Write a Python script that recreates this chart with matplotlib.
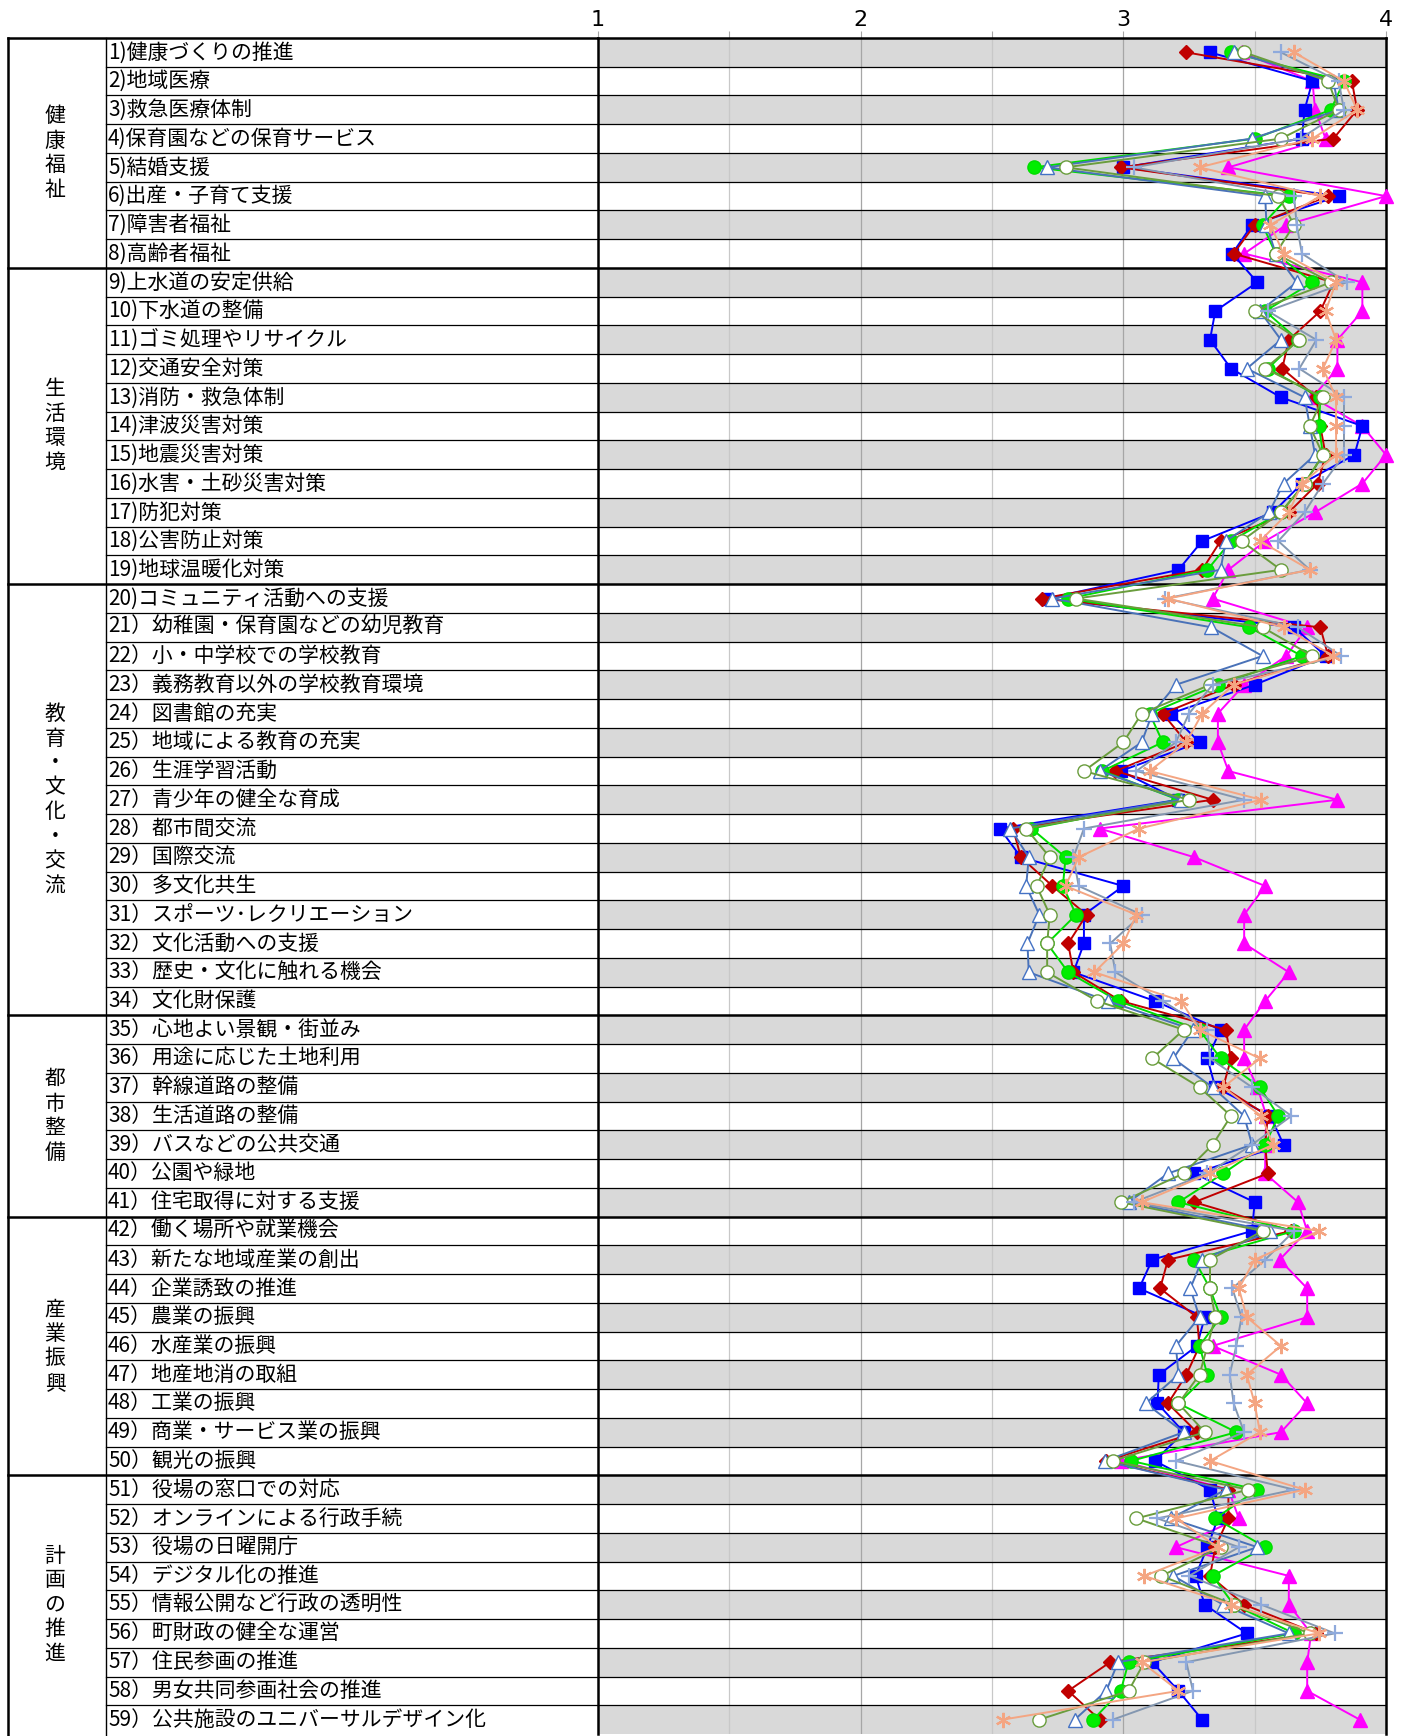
import matplotlib
matplotlib.use("Agg")
import matplotlib.pyplot as plt
import numpy as np

plt.rcParams['font.family'] = ['Noto Sans CJK JP', 'DejaVu Sans']

# categories (group name, number of items)
groups = ['健康福祉', '生活環境', '教育・文化・交流', '都市整備', '産業振興', '計画の推進']
group_sizes = [8, 11, 15, 7, 9, 9]

items = [
    '1)健康づくりの推進', '2)地域医療', '3)救急医療体制', '4)保育園などの保育サービス',
    '5)結婚支援', '6)出産・子育て支援', '7)障害者福祉', '8)高齢者福祉',
    '9)上水道の安定供給', '10)下水道の整備', '11)ゴミ処理やリサイクル', '12)交通安全対策',
    '13)消防・救急体制', '14)津波災害対策', '15)地震災害対策', '16)水害・土砂災害対策',
    '17)防犯対策', '18)公害防止対策', '19)地球温暖化対策',
    '20)コミュニティ活動への支援', '21）幼稚園・保育園などの幼児教育', '22）小・中学校での学校教育',
    '23）義務教育以外の学校教育環境', '24）図書館の充実', '25）地域による教育の充実',
    '26）生涯学習活動', '27）青少年の健全な育成', '28）都市間交流', '29）国際交流',
    '30）多文化共生', '31）スポーツ･レクリエーション', '32）文化活動への支援',
    '33）歴史・文化に触れる機会', '34）文化財保護',
    '35）心地よい景観・街並み', '36）用途に応じた土地利用', '37）幹線道路の整備',
    '38）生活道路の整備', '39）バスなどの公共交通', '40）公園や緑地', '41）住宅取得に対する支援',
    '42）働く場所や就業機会', '43）新たな地域産業の創出', '44）企業誘致の推進', '45）農業の振興',
    '46）水産業の振興', '47）地産地消の取組', '48）工業の振興', '49）商業・サービス業の振興',
    '50）観光の振興',
    '51）役場の窓口での対応', '52）オンラインによる行政手続', '53）役場の日曜開庁',
    '54）デジタル化の推進', '55）情報公開など行政の透明性', '56）町財政の健全な運営',
    '57）住民参画の推進', '58）男女共同参画社会の推進', '59）公共施設のユニバーサルデザイン化',
]

s_square = [3.33, 3.72, 3.69, 3.68, 3.00, 3.82, 3.49, 3.415, 3.51, 3.35,
            3.33, 3.41, 3.60, 3.91, 3.88, 3.68, 3.57, 3.30, 3.21, 2.71,
            3.65, 3.77, 3.50, 3.18, 3.29, 2.99, 3.21, 2.53, 2.61, 3.00,
            2.85, 2.85, 2.81, 3.12, 3.37, 3.32, 3.35, 3.56, 3.61, 3.27,
            3.50, 3.49, 3.11, 3.06, 3.31, 3.28, 3.135, 3.13, 3.23, 3.12,
            3.33, 3.36, 3.32, 3.275, 3.31, 3.47, 3.11, 3.21, 3.30]
s_diamond = [3.24, 3.87, 3.89, 3.80, 2.99, 3.78, 3.50, 3.42, 3.80, 3.75,
             3.63, 3.605, 3.735, 3.75, 3.77, 3.74, 3.63, 3.37, 3.30, 2.69,
             3.75, 3.78, 3.42, 3.15, 3.24, 2.97, 3.34, 2.58, 2.61, 2.73,
             2.86, 2.79, 2.81, 2.99, 3.39, 3.41, 3.38, 3.55, 3.54, 3.55,
             3.27, 3.64, 3.17, 3.14, 3.28, 3.29, 3.24, 3.17, 3.28, 2.935,
             3.40, 3.40, 3.35, 3.33, 3.46, 3.735, 2.95, 2.79, 2.91]
s_green = [3.41, 3.84, 3.79, 3.50, 2.66, 3.63, 3.53, 3.58, 3.72, 3.54,
           3.665, 3.55, 3.75, 3.745, 3.76, 3.69, 3.60, 3.41, 3.32, 2.79,
           3.48, 3.68, 3.36, 3.10, 3.15, 2.92, 3.21, 2.65, 2.78, 2.77,
           2.82, 2.71, 2.79, 2.98, 3.29, 3.37, 3.52, 3.59, 3.54, 3.38,
           3.21, 3.65, 3.27, 3.33, 3.37, 3.29, 3.32, 3.21, 3.43, 3.03,
           3.51, 3.35, 3.54, 3.34, 3.42, 3.65, 3.02, 2.99, 2.885]
s_open_circle = [3.46, 3.78, 3.82, 3.60, 2.78, 3.59, 3.65, 3.58, 3.79, 3.50,
                 3.67, 3.54, 3.76, 3.71, 3.76, 3.69, 3.60, 3.45, 3.60, 2.82,
                 3.53, 3.72, 3.33, 3.07, 3.00, 2.85, 3.25, 2.63, 2.72, 2.67,
                 2.72, 2.71, 2.71, 2.90, 3.23, 3.11, 3.29, 3.41, 3.34, 3.23,
                 2.99, 3.53, 3.33, 3.33, 3.35, 3.32, 3.29, 3.21, 3.31, 2.96,
                 3.475, 3.05, 3.37, 3.145, 3.42, 3.71, 3.08, 3.02, 2.68]
s_open_tri = [3.42, 3.80, 3.82, 3.49, 2.71, 3.54, 3.545, 3.58, 3.66, 3.52,
              3.60, 3.47, 3.69, 3.71, 3.73, 3.61, 3.555, 3.39, 3.37, 2.73,
              3.335, 3.53, 3.20, 3.11, 3.07, 2.91, 3.22, 2.57, 2.64, 2.63,
              2.68, 2.635, 2.64, 2.94, 3.265, 3.19, 3.34, 3.46, 3.49, 3.17,
              3.02, 3.56, 3.30, 3.255, 3.29, 3.20, 3.21, 3.085, 3.23, 2.93,
              3.39, 3.18, 3.51, 3.19, 3.38, 3.63, 2.98, 2.935, 2.815]
s_plus = [3.60, 3.82, 3.84, 3.675, 3.04, 3.65, 3.66, 3.68, 3.85, 3.55,
          3.735, 3.67, 3.84, 3.84, 3.84, 3.76, 3.69, 3.59, 3.71, 3.16,
          3.665, 3.83, 3.34, 3.25, 3.20, 3.05, 3.46, 2.85, 2.81, 2.83,
          3.07, 2.95, 2.97, 3.15, 3.32, 3.33, 3.49, 3.64, 3.49, 3.32,
          3.04, 3.65, 3.54, 3.415, 3.45, 3.43, 3.405, 3.42, 3.46, 3.20,
          3.65, 3.13, 3.44, 3.25, 3.525, 3.805, 3.24, 3.265, 2.96]
s_asterisk = [3.65, 3.84, 3.89, 3.72, 3.29, 3.75, 3.56, 3.61, 3.81, 3.77,
              3.81, 3.76, 3.81, 3.81, 3.81, 3.68, 3.63, 3.52, 3.71, 3.17,
              3.61, 3.80, 3.42, 3.30, 3.24, 3.10, 3.525, 3.06, 2.83, 2.78,
              3.05, 3.00, 2.89, 3.22, 3.29, 3.52, 3.38, 3.525, 3.57, 3.33,
              3.07, 3.745, 3.50, 3.44, 3.47, 3.60, 3.47, 3.50, 3.52, 3.33,
              3.69, 3.20, 3.36, 3.08, 3.41, 3.745, 3.07, 3.21, 2.54]
s_magenta = [3.45, 3.72, 3.73, 3.77, 3.40, 4.00, 3.62, 3.46, 3.91, 3.91,
             3.815, 3.815, 3.72, 3.91, 4.00, 3.91, 3.73, 3.54, 3.40, 3.34,
             3.70, 3.62, 3.46, 3.36, 3.36, 3.40, 3.815, 2.91, 3.27, 3.54,
             3.46, 3.46, 3.63, 3.54, 3.46, 3.46, 3.51, 3.545, 3.54, 3.54,
             3.665, 3.70, 3.595, 3.70, 3.70, 3.34, 3.60, 3.70, 3.60, 2.99,
             3.40, 3.44, 3.20, 3.63, 3.63, 3.715, 3.70, 3.70, 3.90]

W, H = 1407, 1736
fig = plt.figure(figsize=(W / 100, H / 100), dpi=100, facecolor='white')

top_px, bot_px = 38, 1734
x1_px, x4_px = 598, 1386
n = len(items)
rh = (bot_px - top_px) / n

# ---- plot area ----
ax = fig.add_axes([x1_px / W, (H - bot_px) / H, (x4_px - x1_px) / W, (bot_px - top_px) / H])
ax.set_xlim(1, 4)
ax.set_ylim(n, 0)
for i in range(n):
    if i % 2 == 0:
        ax.axhspan(i, i + 1, color='#D9D9D9', zorder=0, lw=0)
for xv in np.arange(1.5, 4.0, 0.5):
    ax.axvline(xv, color='#A6A6A6' if xv == int(xv) else '#C8C8C8', lw=0.9, zorder=0.5)

bounds = np.cumsum(group_sizes)
for i in range(1, n):
    thick = i in bounds
    ax.axhline(i, color='black', lw=1.8 if thick else 0.9, zorder=1)

y = np.arange(n) + 0.5
series = [
    (s_magenta, dict(color='#FF00FF', marker='^', mfc='#FF00FF', mec='#FF00FF', ms=9.5), 3),
    (s_square, dict(color='#0000FF', marker='s', mfc='#0000FF', mec='#0000FF', ms=8), 4),
    (s_diamond, dict(color='#C00000', marker='D', mfc='#C00000', mec='#C00000', ms=7.5), 5),
    (s_green, dict(color='#00DD00', marker='o', mfc='#00EE00', mec='#00DD00', ms=9.5), 6),
    (s_open_tri, dict(color='#4A72B8', marker='^', mfc='white', mec='#4472C4', ms=10), 7),
    (s_open_circle, dict(color='#6A9D3D', marker='o', mfc='white', mec='#6A9D3D', ms=9.5), 8),
    (s_plus, dict(color='#8497B0', marker='+', mec='#8FAADC', ms=11, mew=1.6), 9),
    (s_asterisk, dict(color='#F4A582', marker=(6, 2, 0), mec='#F4A582', ms=11, mew=1.6), 10),
]
for vals, kw, z in series:
    ax.plot(vals, y, lw=1.4, zorder=z, clip_on=False, **kw)

ax.xaxis.tick_top()
ax.set_xticks(np.arange(1, 4.01, 0.5))
ax.set_xticklabels(['1', '', '2', '', '3', '', '4'], fontsize=16, family='DejaVu Sans')
ax.tick_params(axis='x', length=5, color='#A6A6A6', pad=1)
ax.set_yticks([])
for side in ['left', 'right', 'top']:
    ax.spines[side].set_linewidth(1.8)
ax.spines['bottom'].set_visible(False)

# ---- table on the left ----
tb = fig.add_axes([0, 0, x1_px / W, 1])
tb.set_xlim(0, x1_px)
tb.set_ylim(H, 0)
tb.axis('off')

def row_top(i):
    return top_px + i * rh

tb.plot([8, x1_px], [top_px, top_px], color='black', lw=1.8)
tb.plot([8, 8], [top_px, H], color='black', lw=1.8)
tb.plot([106, 106], [top_px, H], color='black', lw=1.0)
for i in range(1, n):
    if i in bounds:
        tb.plot([8, x1_px], [row_top(i)] * 2, color='black', lw=1.8)
    else:
        tb.plot([106, x1_px], [row_top(i)] * 2, color='black', lw=0.9)

for i, lab in enumerate(items):
    tb.text(108, row_top(i) + rh / 2, lab, fontsize=15, va='center', ha='left')

start = 0
for g, size in zip(groups, group_sizes):
    yc = row_top(start) + size * rh / 2
    k = len(g)
    for j, ch in enumerate(g):
        tb.text(55, yc + (j - (k - 1) / 2) * 24.5, ch, fontsize=15, ha='center', va='center')
    start += size

fig.savefig('out.png', dpi=100)
